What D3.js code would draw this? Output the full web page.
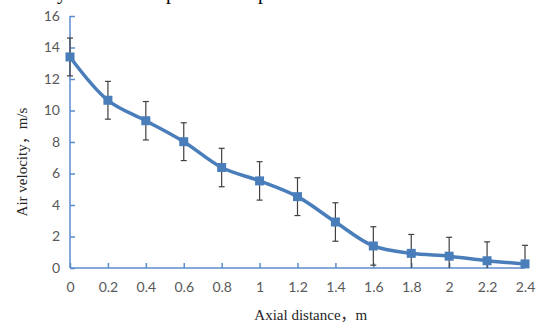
<!DOCTYPE html>
<html>
<head>
<meta charset="utf-8">
<script src="https://cdn.jsdelivr.net/npm/d3@7"></script>
<style>
  body { margin: 0; background: #fff; }
  svg { display: block; }
  .tick text { font-family: Lato, "Open Sans", sans-serif; font-size: 14px; fill: #595959; }
  .title { font-family: "Liberation Serif", "Noto Sans CJK SC", serif; font-size: 15px; fill: #262626; }
</style>
</head>
<body>
<div id="chart"></div>
<script>
"use strict";

// Chart values
var distances = [0, 0.2, 0.4, 0.6, 0.8, 1, 1.2, 1.4, 1.6, 1.8, 2, 2.2, 2.4];
var velocities = [13.4, 10.65, 9.35, 8.02, 6.38, 5.53, 4.53, 2.92, 1.4, 0.93, 0.75, 0.46, 0.26];
var errors = [1.2, 1.2, 1.22, 1.2, 1.22, 1.22, 1.2, 1.22, 1.22, 1.2, 1.2, 1.2, 1.18];
var xTicks = [0, 0.2, 0.4, 0.6, 0.8, 1, 1.2, 1.4, 1.6, 1.8, 2, 2.2, 2.4];
var yTicks = [0, 2, 4, 6, 8, 10, 12, 14, 16];
var xTitle = "Axial distance，m";
var yTitle = "Air velocity，m/s";

var W = 537, H = 323;
var margin = {top: 16, right: 12, bottom: 55, left: 70},
    width = W - margin.left - margin.right,
    height = H - margin.top - margin.bottom;

var axisColor = "#5b8ccc",
    lineColor = "#4a7ebb",
    errColor = "#404040";

var xScale = d3.scaleLinear().domain([0, 2.4]).range([0, width]);
var yScale = d3.scaleLinear().domain([0, 16]).range([height, 0]);

var svg = d3.select("#chart").append("svg")
    .attr("width", W)
    .attr("height", H);

// Remnants of a text line cut off at the top of the picture
svg.append("g")
    .attr("class", "title")
    .selectAll("text")
    .data([{t: "y", x: 57}, {t: "p", x: 166}, {t: "p", x: 258}])
    .enter()
    .append("text")
    .attr("x", function(d) { return d.x; })
    .attr("y", -1.5)
    .style("font-size", "20px")
    .style("fill", "#000")
    .text(function(d) { return d.t; });

var g = svg.append("g")
    .attr("transform", "translate(" + margin.left + "," + margin.top + ")");

g.append("clipPath")
    .attr("id", "clipPlot")
    .append("rect")
    .attr("x", -10)
    .attr("y", -20)
    .attr("width", width + 20)
    .attr("height", height + 20);

// Y axis
var yAxis = d3.axisRight(yScale)
    .tickValues(yTicks)
    .tickSize(5)
    .tickFormat(d3.format("d"));
var yg = g.append("g").call(yAxis);
yg.select(".domain").attr("stroke", axisColor).attr("stroke-width", 1.5)
    .attr("d", "M0," + height + "V0");
yg.selectAll(".tick line").attr("stroke", axisColor).attr("stroke-width", 1.5);
yg.selectAll(".tick text").attr("x", -10).attr("text-anchor", "end");

// X axis
var xAxis = d3.axisTop(xScale)
    .tickValues(xTicks)
    .tickSize(5)
    .tickFormat(function(d) { return String(+d.toFixed(1)); });
var xg = g.append("g")
    .attr("transform", "translate(0," + height + ")")
    .call(xAxis);
xg.select(".domain").attr("stroke", axisColor).attr("stroke-width", 1.5)
    .attr("d", "M0,0H" + width);
xg.selectAll(".tick line").attr("stroke", axisColor).attr("stroke-width", 1.5);
xg.selectAll(".tick text").attr("y", 20).attr("dy", "0.32em");

// Error bars
var eb = g.append("g")
    .attr("clip-path", "url(#clipPlot)")
    .selectAll("g")
    .data(distances)
    .enter()
    .append("g")
    .attr("stroke", errColor)
    .attr("stroke-width", 1.2);
eb.append("line")
    .attr("x1", function(d) { return xScale(d); })
    .attr("x2", function(d) { return xScale(d); })
    .attr("y1", function(d, i) { return yScale(velocities[i] + errors[i]); })
    .attr("y2", function(d, i) { return yScale(velocities[i] - errors[i]); });
eb.append("line")
    .attr("x1", function(d) { return xScale(d) - 3; })
    .attr("x2", function(d) { return xScale(d) + 3; })
    .attr("y1", function(d, i) { return yScale(velocities[i] + errors[i]); })
    .attr("y2", function(d, i) { return yScale(velocities[i] + errors[i]); });
eb.append("line")
    .attr("x1", function(d) { return xScale(d) - 3; })
    .attr("x2", function(d) { return xScale(d) + 3; })
    .attr("y1", function(d, i) { return yScale(velocities[i] - errors[i]); })
    .attr("y2", function(d, i) { return yScale(velocities[i] - errors[i]); });

// Smoothed line
var line = d3.line()
    .x(function(d, i) { return xScale(distances[i]); })
    .y(function(d) { return yScale(d); })
    .curve(d3.curveCatmullRom.alpha(0.5));
g.append("path")
    .datum(velocities)
    .attr("fill", "none")
    .attr("stroke", lineColor)
    .attr("stroke-width", 3.5)
    .attr("stroke-linejoin", "round")
    .attr("d", line);

// Square markers
var ms = 9;
g.append("g")
    .selectAll("rect")
    .data(velocities)
    .enter()
    .append("rect")
    .attr("x", function(d, i) { return xScale(distances[i]) - ms / 2; })
    .attr("y", function(d) { return yScale(d) - ms / 2; })
    .attr("width", ms)
    .attr("height", ms)
    .attr("fill", lineColor);

// Axis titles
svg.append("text")
    .attr("class", "title")
    .attr("x", margin.left + xScale(1.27))
    .attr("y", 320)
    .attr("text-anchor", "middle")
    .text(xTitle);

svg.append("text")
    .attr("class", "title")
    .attr("transform", "translate(27,162) rotate(-90)")
    .attr("text-anchor", "middle")
    .text(yTitle);
</script>
</body>
</html>
